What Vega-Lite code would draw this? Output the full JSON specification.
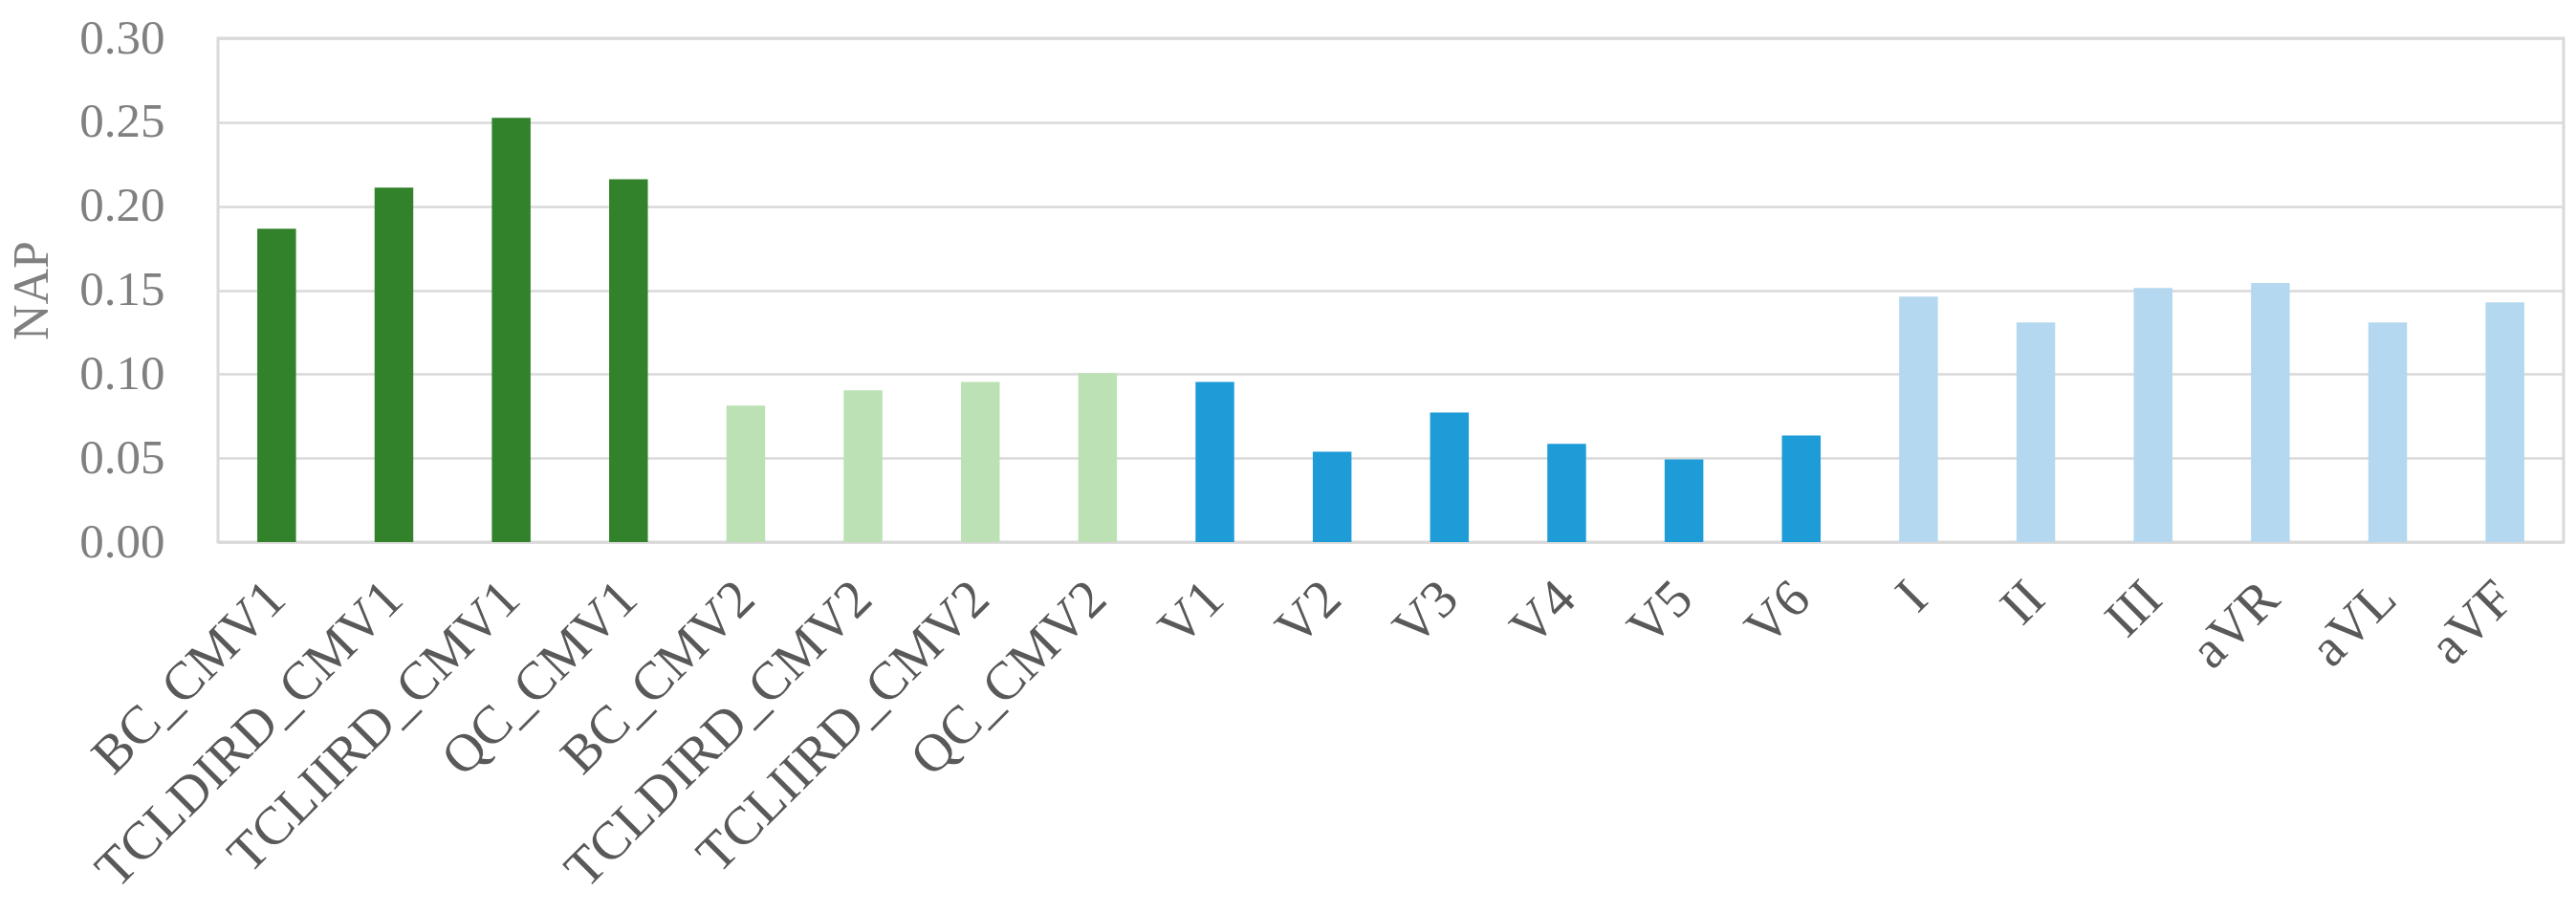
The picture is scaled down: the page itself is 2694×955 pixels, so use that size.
{
  "$schema": "https://vega.github.io/schema/vega-lite/v6.json",
  "width": 2453,
  "height": 527,
  "autosize": {"type": "none"},
  "padding": {"left": 228, "top": 40, "right": 13, "bottom": 388},
  "background": "white",
  "config": {
    "view": {"stroke": "#d9d9d9", "strokeWidth": 3},
    "font": "Liberation Serif"
  },
  "data": {
    "values": [
      {"name": "BC_CMV1", "group": "CMV1", "NAP": 0.1866},
      {"name": "TCLDIRD_CMV1", "group": "CMV1", "NAP": 0.2111},
      {"name": "TCLIIRD_CMV1", "group": "CMV1", "NAP": 0.2526},
      {"name": "QC_CMV1", "group": "CMV1", "NAP": 0.2161},
      {"name": "BC_CMV2", "group": "CMV2", "NAP": 0.0812},
      {"name": "TCLDIRD_CMV2", "group": "CMV2", "NAP": 0.0903},
      {"name": "TCLIIRD_CMV2", "group": "CMV2", "NAP": 0.0953},
      {"name": "QC_CMV2", "group": "CMV2", "NAP": 0.1006},
      {"name": "V1", "group": "Chest", "NAP": 0.0953},
      {"name": "V2", "group": "Chest", "NAP": 0.0538},
      {"name": "V3", "group": "Chest", "NAP": 0.0772},
      {"name": "V4", "group": "Chest", "NAP": 0.0585},
      {"name": "V5", "group": "Chest", "NAP": 0.0492},
      {"name": "V6", "group": "Chest", "NAP": 0.0635},
      {"name": "I", "group": "Limb", "NAP": 0.1462},
      {"name": "II", "group": "Limb", "NAP": 0.1308},
      {"name": "III", "group": "Limb", "NAP": 0.1513},
      {"name": "aVR", "group": "Limb", "NAP": 0.1542},
      {"name": "aVL", "group": "Limb", "NAP": 0.1308},
      {"name": "aVF", "group": "Limb", "NAP": 0.1428}
    ]
  },
  "mark": {"type": "bar"},
  "encoding": {
    "x": {
      "field": "name",
      "type": "nominal",
      "sort": null,
      "scale": {"paddingInner": 0.67, "paddingOuter": 0.335},
      "axis": {
        "title": null,
        "domain": false,
        "ticks": false,
        "labelAngle": -45,
        "labelAlign": "right",
        "labelBaseline": "middle",
        "labelPadding": 50,
        "labelFontSize": 56,
        "labelColor": "#595959",
        "labelFont": "Liberation Serif",
        "labelOverlap": false,
        "labelLimit": 1000
      }
    },
    "y": {
      "field": "NAP",
      "type": "quantitative",
      "scale": {"domain": [0, 0.3], "nice": false},
      "axis": {
        "title": "NAP",
        "titleFontSize": 52,
        "titleFont": "Liberation Serif",
        "titleFontWeight": "normal",
        "titleColor": "#808080",
        "titlePadding": 22,
        "values": [0, 0.05, 0.1, 0.15, 0.2, 0.25, 0.3],
        "format": ".2f",
        "domain": false,
        "ticks": false,
        "grid": true,
        "gridColor": "#d9d9d9",
        "gridWidth": 2.5,
        "labelFontSize": 51,
        "labelFont": "Liberation Serif",
        "labelColor": "#808080",
        "labelPadding": 56
      }
    },
    "color": {
      "field": "group",
      "type": "nominal",
      "scale": {
        "domain": ["CMV1", "CMV2", "Chest", "Limb"],
        "range": ["#31822a", "#bbe1b4", "#1e9cd8", "#b4d8ef"]
      },
      "legend": null
    }
  }
}
